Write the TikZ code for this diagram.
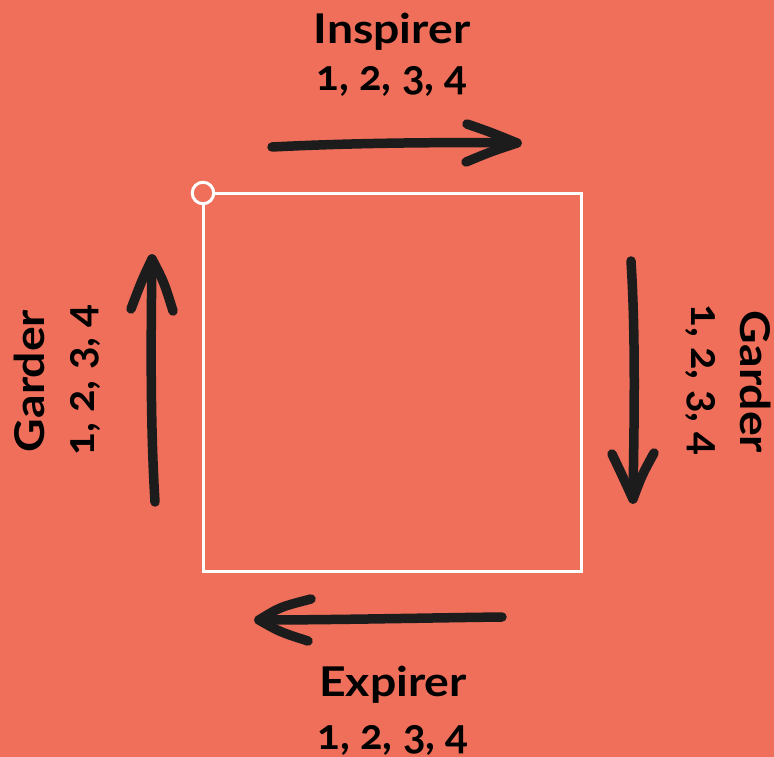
\documentclass[tikz,border=0pt]{standalone}
\usepackage{fontspec}
\setmainfont{Lato}[Numbers=OldStyle]
\newfontfamily\wordfont{Lato}[FakeStretch=1.13]
\definecolor{bgc}{HTML}{EF6F5A}
\definecolor{ink}{HTML}{1C1C1C}
\tikzset{
  lbl/.style={font=\wordfont\fontsize{41}{46}\selectfont\bfseries, text=black, inner sep=0pt},
  num/.style={font=\fontsize{42}{46}\selectfont\bfseries, text=black, inner sep=0pt},
  shaft/.style={draw=ink, line width=9.5pt, line cap=round, line join=round},
}
\begin{document}
\begin{tikzpicture}[x=1pt,y=-1pt]
\fill[bgc] (0,0) rectangle (774,757);
\useasboundingbox (0,0) rectangle (774,757);
% square
\node[draw=white, line width=3pt, minimum size=378pt, inner sep=0pt, outer sep=0pt, anchor=north west] (sq) at (203,193) {};
\node[circle, draw=white, fill=bgc, line width=3pt, minimum size=21.5pt, inner sep=0pt] (dot) at (sq.north west) {};
% labels
\node[lbl, anchor=base] (ins) at (392,44) {Inspirer};
\node[num, anchor=base] (insn) at (392,91) {1, 2, 3, 4};
\node[lbl, anchor=base] (exp) at (393,696) {Expirer};
\node[num, anchor=base] (expn) at (393,749) {1, 2, 3, 4};
\node[lbl, anchor=base, rotate=90] (gl) at (44,381) {Garder};
\node[num, anchor=base, rotate=90] (gln) at (94,380) {1, 2, 3, 4};
\node[lbl, anchor=base, rotate=-90] (gr) at (740,382) {Garder};
\node[num, anchor=base, rotate=-90] (grn) at (691,380) {1, 2, 3, 4};
% top arrow
\coordinate (ta) at (272,147);
\coordinate (tb) at (517,143);
\coordinate (th1) at (467,124);
\coordinate (th2) at (466,162);
\draw[shaft] (ta) .. controls (350,143) and (440,142) .. (tb);
\draw[shaft] (th1) .. controls (490,132) .. (tb) .. controls (490,152) .. (th2);
% right arrow
\coordinate (ra) at (631,261);
\coordinate (rb) at (633,499);
\coordinate (rh1) at (612,454);
\coordinate (rh2) at (654,453);
\draw[shaft] (ra) .. controls (636,340) and (634,430) .. (rb);
\draw[shaft] (rh1) .. controls (622,475) .. (rb) .. controls (642,475) .. (rh2);
% bottom arrow
\coordinate (ba) at (502,617);
\coordinate (bb) at (259,620);
\coordinate (bh1) at (311,599);
\coordinate (bh2) at (308,641);
\draw[shaft] (ba) .. controls (420,618) and (330,620) .. (bb);
\draw[shaft] (bh1) .. controls (280,607) .. (bb) .. controls (280,632) .. (bh2);
% left arrow
\coordinate (la) at (155,502);
\coordinate (lb) at (152,259);
\coordinate (lh1) at (131,309);
\coordinate (lh2) at (173,311);
\draw[shaft] (la) .. controls (150,420) and (151,330) .. (lb);
\draw[shaft] (lh1) .. controls (142,280) .. (lb) .. controls (164,282) .. (lh2);
\end{tikzpicture}
\end{document}
